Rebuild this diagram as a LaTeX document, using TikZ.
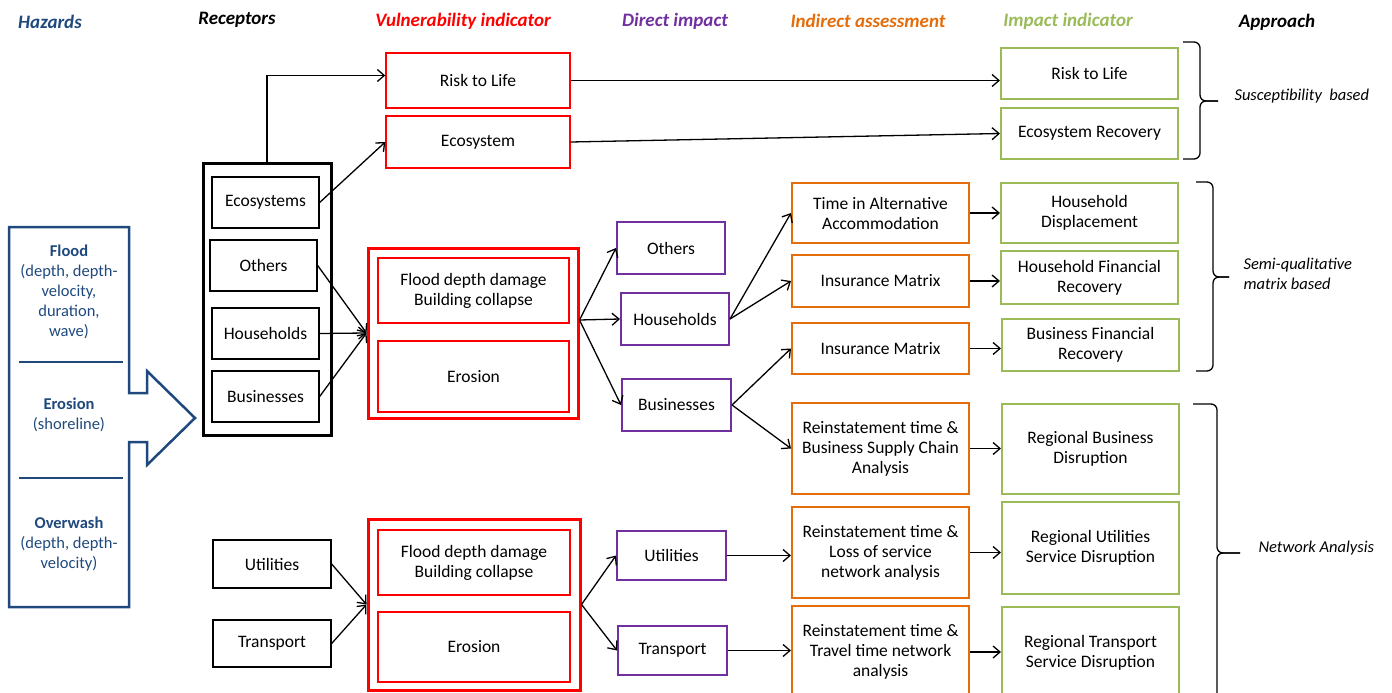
\documentclass[tikz,border=0pt]{standalone}
\usepackage{fontspec}
\setmainfont{Carlito}
\usetikzlibrary{arrows.meta}
\definecolor{hazblue}{RGB}{31,73,125}
\definecolor{dirpurple}{RGB}{112,48,160}
\definecolor{indorange}{RGB}{228,108,10}
\definecolor{impgreen}{RGB}{155,187,89}
\tikzset{
  font={\fontsize{17.5}{20}\selectfont},
  base/.style={draw, align=center, inner sep=1pt},
  recbox/.style={base, line width=1.3pt},
  vulbox/.style={base, draw=red, line width=1.4pt},
  grpbox/.style={draw=red, line width=3pt},
  dirbox/.style={base, draw=dirpurple, line width=2pt},
  indbox/.style={base, draw=indorange, line width=2pt},
  impbox/.style={base, draw=impgreen, line width=2pt},
  head/.style={font={\fontsize{19}{22}\selectfont\bfseries\itshape}},
  apprtext/.style={anchor=west, align=left, font={\fontsize{16.5}{20}\selectfont\itshape}},
  haztext/.style={align=center, text=hazblue, font={\fontsize{16.5}{20}\selectfont}},
  link/.style={-{Straight Barb[length=7pt,width=12pt]}, line width=1.3pt},
  brace/.style={line width=1.3pt, rounded corners=6pt}}

\begin{document}
\begin{tikzpicture}[x=1pt,y=-1pt]
\useasboundingbox (0,0) rectangle (1392,693);
\clip (0,0) rectangle (1392,693);
% column heads
\node[head, text=hazblue]    (h1) at (50,22)   {Hazards};
\node[head]                  (h2) at (237,20)  {Receptors};
\node[head, text=red]        (h3) at (463,21)  {Vulnerability indicator};
\node[head, text=dirpurple]  (h4) at (675,21)  {Direct impact};
\node[head, text=indorange]  (h5) at (868,21)  {Indirect assessment};
\node[head, text=impgreen]   (h6) at (1068,21) {Impact indicator};
\node[head]                  (h7) at (1277,22) {Approach};

% hazards arrow
\draw[hazblue, line width=2.5pt] (9,227) -- (129,227) -- (129,393) -- (147,393) -- (147,371)
  -- (195,418) -- (147,465) -- (147,442) -- (129,442) -- (129,607) -- (9,607) -- cycle;
\draw[hazblue, line width=1.3pt] (19,362) -- (123,362);
\draw[hazblue, line width=1.3pt] (19,478) -- (123,478);
\node[haztext] (flood) at (69,292) {\textbf{Flood}\\(depth, depth-\\velocity,\\duration,\\wave)};
\node[haztext] (eros)  at (69,415) {\textbf{Erosion}\\(shoreline)};
\node[haztext] (ovw)   at (69,544) {\textbf{Overwash}\\(depth, depth-\\velocity)};

% receptors
\node[draw, line width=3pt, minimum width=128pt, minimum height=272pt] (recgrp) at (267,299) {};
\node[recbox, minimum width=107pt, minimum height=51pt] (ecos) at (265.5,202.5) {Ecosystems};
\node[recbox, minimum width=107pt, minimum height=51pt] (othr) at (263.5,265.5) {Others};
\node[recbox, minimum width=107pt, minimum height=51pt] (hh)   at (265.5,333.5) {Households};
\node[recbox, minimum width=107pt, minimum height=51pt] (bus)  at (265.5,396.5) {Businesses};
\node[recbox, minimum width=118pt, minimum height=48pt] (util) at (272,564)     {Utilities};
\node[recbox, minimum width=118pt, minimum height=47pt] (trans) at (272,643.5)  {Transport};

% vulnerability
\node[vulbox, minimum width=184pt, minimum height=55pt] (rlv)  at (478,80.5) {Risk to Life};
\node[vulbox, minimum width=184pt, minimum height=52pt] (ecov) at (478,142)  {Ecosystem};
\node[grpbox, minimum width=210pt, minimum height=170pt] (grp1) at (473,333)  {};
\node[vulbox, minimum width=191pt, minimum height=65pt] (fdd1) at (473.5,290.5) {Flood depth damage\\Building collapse};
\node[vulbox, minimum width=191pt, minimum height=71pt] (ero1) at (473.5,376.5) {Erosion};
\node[grpbox, minimum width=212pt, minimum height=171pt] (grp2) at (474,604.5) {};
\node[vulbox, minimum width=192pt, minimum height=65pt] (fdd2) at (474,562.5) {Flood depth damage\\Building collapse};
\node[vulbox, minimum width=192pt, minimum height=70pt] (ero2) at (474,647)   {Erosion};

% direct impact
\node[dirbox, minimum width=108pt, minimum height=52pt] (othd)   at (671,248)     {Others};
\node[dirbox, minimum width=108pt, minimum height=52pt] (hhd)    at (675,319)     {Households};
\node[dirbox, minimum width=109pt, minimum height=52pt] (busd)   at (676.5,405)   {Businesses};
\node[dirbox, minimum width=109pt, minimum height=49pt] (utild)  at (671.5,555.5) {Utilities};
\node[dirbox, minimum width=109pt, minimum height=49pt] (transd) at (672.5,650.5) {Transport};

% indirect assessment
\node[indbox, minimum width=177pt, minimum height=60pt] (tia)  at (880.5,213)   {Time in Alternative\\Accommodation};
\node[indbox, minimum width=177pt, minimum height=52pt] (ins1) at (880.5,281)   {Insurance Matrix};
\node[indbox, minimum width=177pt, minimum height=51pt] (ins2) at (880.5,348.5) {Insurance Matrix};
\node[indbox, minimum width=177pt, minimum height=91pt] (rbs)  at (880.5,448.5) {Reinstatement time \&\\Business Supply Chain\\Analysis};
\node[indbox, minimum width=177pt, minimum height=91pt] (rlu)  at (880.5,552.5) {Reinstatement time \&\\Loss of service\\network analysis};
\node[indbox, minimum width=177pt, minimum height=92pt] (rtt)  at (880.5,652)   {Reinstatement time \&\\Travel time network\\analysis};

% impact indicator
\node[impbox, minimum width=177pt, minimum height=51pt] (rli) at (1089.5,73.5)  {Risk to Life};
\node[impbox, minimum width=177pt, minimum height=51pt] (eri) at (1089.5,133.5) {Ecosystem Recovery};
\node[impbox, minimum width=177pt, minimum height=60pt] (hdi) at (1089.5,213)   {Household\\Displacement};
\node[impbox, minimum width=177pt, minimum height=53pt] (hfi) at (1089.5,277.5) {Household Financial\\Recovery};
\node[impbox, minimum width=177pt, minimum height=52pt] (bfi) at (1090.5,345)   {Business Financial\\Recovery};
\node[impbox, minimum width=177pt, minimum height=90pt] (rbi) at (1090.5,449)   {Regional Business\\Disruption};
\node[impbox, minimum width=177pt, minimum height=92pt] (rui) at (1090.5,548)   {Regional Utilities\\Service Disruption};
\node[impbox, minimum width=177pt, minimum height=92pt] (rti) at (1090.5,653)   {Regional Transport\\Service Disruption};

% connectors
\draw[link] (recgrp.north) |- ([yshift=5pt]rlv.west);
\draw[link] (ecos.east) -- (ecov.west);
\draw[link] (othr.east) -- (grp1.west);
\draw[link] (hh.east)   -- (grp1.west);
\draw[link] (bus.east)  -- (grp1.west);
\coordinate (g1out) at ([yshift=13pt]grp1.east);
\draw[link] (g1out) -- (othd.west);
\draw[link] (g1out) -- (hhd.west);
\draw[link] (g1out) -- (busd.west);
\draw[link] (hhd.east)  -- (tia.west);
\draw[link] (hhd.east)  -- (ins1.west);
\draw[link] (busd.east) -- (ins2.west);
\draw[link] (busd.east) -- (rbs.west);
\draw[link] (util.east)  -- (grp2.west);
\draw[link] (trans.east) -- (grp2.west);
\draw[link] (grp2.east) -- (utild.west);
\draw[link] (grp2.east) -- (transd.west);
\draw[link] (utild.east)  -- (utild.east -| rlu.west);
\draw[link] (transd.east) -- (transd.east -| rtt.west);
\draw[link] (rlv.east)  -- (rlv.east -| rli.west);
\draw[link] (ecov.east) -- (eri.west);
\draw[link] (tia.east)  -- (tia.east -| hdi.west);
\draw[link] (ins1.east) -- (ins1.east -| hfi.west);
\draw[link] (ins2.east) -- (ins2.east -| bfi.west);
\draw[link] (rbs.east)  -- (rbs.east -| rbi.west);
\draw[link] (rlu.east)  -- (rlu.east -| rui.west);
\draw[link] (rtt.east)  -- (rtt.east -| rti.west);

% approach braces
\draw[brace] (1183,42) -- (1200,42) -- (1200,101) -- (1218,101);
\draw[brace] (1218,101) -- (1200,101) -- (1200,159) -- (1183,159);
\draw[brace] (1196,182) -- (1213,182) -- (1213,277) -- (1229,277);
\draw[brace] (1229,277) -- (1213,277) -- (1213,371) -- (1196,371);
\draw[brace] (1193,404) -- (1217,404) -- (1217,553) -- (1240,553);
\draw[brace] (1240,553) -- (1217,553) -- (1217,710);
\node[apprtext] (susc) at (1231,96)  {Susceptibility\ \ based};
\node[apprtext] (semi) at (1240,274) {Semi-qualitative\\matrix based};
\node[apprtext] (netw) at (1255,548) {Network Analysis};
\end{tikzpicture}
\end{document}
